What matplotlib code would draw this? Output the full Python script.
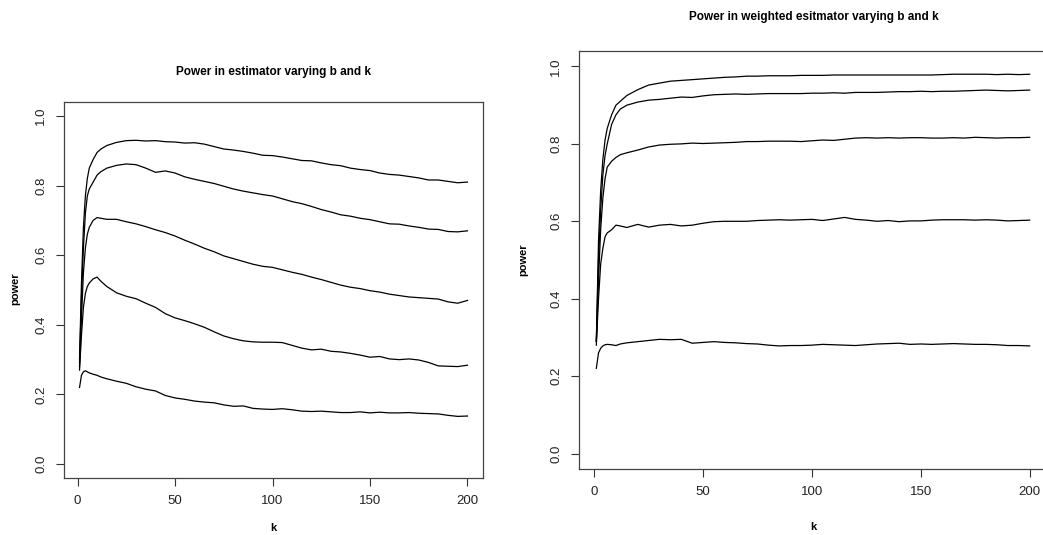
import matplotlib
matplotlib.use('Agg')
import matplotlib.pyplot as plt

plt.rcParams['font.family'] = ['Liberation Sans', 'DejaVu Sans']

k = [1, 2, 3, 4, 5, 6, 8, 10, 12, 15] + list(range(20, 201, 5))

# Power in estimator (izquierda), de b mayor a b menor
izq_1 = [.30, .52, .68, .77, .82, .85, .875, .895, .905, .915,
         .924, .929, .930, .928, .929, .926, .925, .922, .923, .919,
         .912, .905, .902, .898, .893, .887, .886, .882, .877, .872,
         .871, .865, .860, .857, .850, .846, .843, .836, .832, .830,
         .826, .822, .816, .816, .812, .808, .810]
izq_2 = [.29, .48, .62, .72, .77, .79, .81, .83, .84, .85,
         .858, .862, .860, .850, .838, .842, .836, .825, .818, .812,
         .806, .798, .790, .784, .779, .774, .770, .762, .754, .748,
         .740, .731, .724, .716, .712, .706, .702, .696, .690, .689,
         .684, .680, .675, .674, .668, .667, .670]
izq_3 = [.28, .42, .55, .62, .66, .68, .70, .708, .706, .703,
         .703, .696, .690, .682, .673, .665, .655, .643, .632, .620,
         .610, .598, .590, .582, .574, .568, .565, .558, .551, .545,
         .537, .530, .522, .514, .508, .504, .498, .494, .488, .484,
         .480, .478, .476, .474, .466, .462, .470]
izq_4 = [.27, .37, .45, .49, .51, .52, .532, .537, .525, .51,
         .492, .482, .475, .462, .450, .432, .420, .412, .403, .393,
         .380, .368, .360, .354, .351, .350, .350, .349, .341, .333,
         .328, .330, .324, .322, .318, .313, .307, .309, .302, .300,
         .302, .299, .292, .282, .281, .280, .284]
izq_5 = [.22, .255, .265, .268, .265, .262, .258, .255, .25, .245,
         .238, .232, .222, .215, .210, .197, .190, .186, .181, .178,
         .176, .170, .166, .167, .160, .158, .157, .159, .156, .152,
         .151, .152, .150, .148, .148, .150, .147, .149, .147, .147,
         .148, .146, .145, .144, .140, .137, .138]

# Power in weighted estimator (derecha)
der_1 = [.29, .55, .68, .76, .81, .84, .875, .90, .91, .925,
         .940, .952, .957, .962, .964, .966, .968, .970, .972, .973,
         .975, .975, .976, .976, .976, .977, .977, .977, .978, .978,
         .978, .978, .978, .978, .978, .978, .978, .978, .979, .980,
         .980, .980, .980, .979, .980, .979, .980]
der_2 = [.29, .50, .63, .72, .77, .80, .85, .875, .89, .90,
         .908, .913, .915, .918, .921, .920, .924, .927, .928, .929,
         .928, .929, .930, .930, .930, .930, .931, .931, .932, .931,
         .933, .933, .933, .934, .935, .935, .936, .935, .936, .936,
         .937, .938, .939, .938, .937, .938, .939]
der_3 = [.29, .45, .58, .66, .71, .74, .755, .765, .772, .777,
         .784, .792, .797, .799, .800, .802, .801, .802, .803, .804,
         .806, .806, .807, .807, .807, .806, .808, .810, .809, .812,
         .815, .816, .815, .816, .815, .816, .816, .815, .815, .816,
         .815, .817, .816, .815, .816, .816, .817]
der_4 = [.28, .40, .49, .53, .56, .57, .578, .59, .588, .584,
         .592, .585, .590, .592, .588, .590, .595, .599, .600, .600,
         .600, .602, .603, .604, .603, .604, .605, .602, .606, .610,
         .605, .603, .600, .602, .599, .601, .601, .603, .604, .604,
         .604, .603, .604, .603, .601, .602, .603]
der_5 = [.22, .26, .272, .278, .281, .282, .281, .279, .283, .286,
         .289, .292, .295, .294, .295, .285, .287, .289, .287, .286,
         .284, .283, .280, .278, .279, .279, .280, .282, .281, .280,
         .279, .281, .283, .284, .285, .282, .283, .282, .283, .284,
         .283, .282, .282, .281, .279, .279, .278]

xticks = [0, 50, 100, 150, 200]
yticks = [0.0, 0.2, 0.4, 0.6, 0.8, 1.0]

W, H = 1043, 535
fig = plt.figure(figsize=(W / 100, H / 100), dpi=100)


def panel(px, curvas):
    # px = (izq, arriba, der, abajo) en pixeles
    l, t, r, b = px
    ax = fig.add_axes([l / W, 1 - b / H, (r - l) / W, (b - t) / H])
    for c in curvas:
        ax.plot(k, c, color='black', lw=0.9)
    ax.set_xlim(1 - 7.96, 200 + 7.96)
    ax.set_ylim(-0.04, 1.04)
    ax.set_xticks(xticks)
    ax.set_yticks(yticks)
    ax.set_xticklabels([str(x) for x in xticks], fontsize=9.5)
    ax.set_yticklabels(['%.1f' % y for y in yticks], fontsize=9.5,
                       rotation=90, va='center')
    ax.tick_params(direction='out', length=6, width=0.8, pad=6,
                   colors='#333333', labelcolor='#222222')
    for s in ax.spines.values():
        s.set_linewidth(0.9)
        s.set_color('#444444')
    return ax


ax1 = panel((64, 102, 483, 478), [izq_1, izq_2, izq_3, izq_4, izq_5])
ax2 = panel((579, 51, 1047, 469), [der_1, der_2, der_3, der_4, der_5])

fig.text(274 / W, 1 - 72 / H, 'Power in estimator varying b and k',
         ha='center', va='center', fontsize=8.5, fontweight='bold')
fig.text(814 / W, 1 - 17 / H, 'Power in weighted esitmator varying b and k',
         ha='center', va='center', fontsize=8.5, fontweight='bold')

fig.text(15 / W, 1 - 289 / H, 'power', rotation=90, ha='center',
         va='center', fontsize=8, fontweight='bold')
fig.text(523 / W, 1 - 260 / H, 'power', rotation=90, ha='center',
         va='center', fontsize=8, fontweight='bold')
fig.text(273 / W, 1 - 528 / H, 'k', ha='center', va='center',
         fontsize=8, fontweight='bold')
fig.text(813 / W, 1 - 527 / H, 'k', ha='center', va='center',
         fontsize=8, fontweight='bold')

fig.savefig('out.png', dpi=100)
